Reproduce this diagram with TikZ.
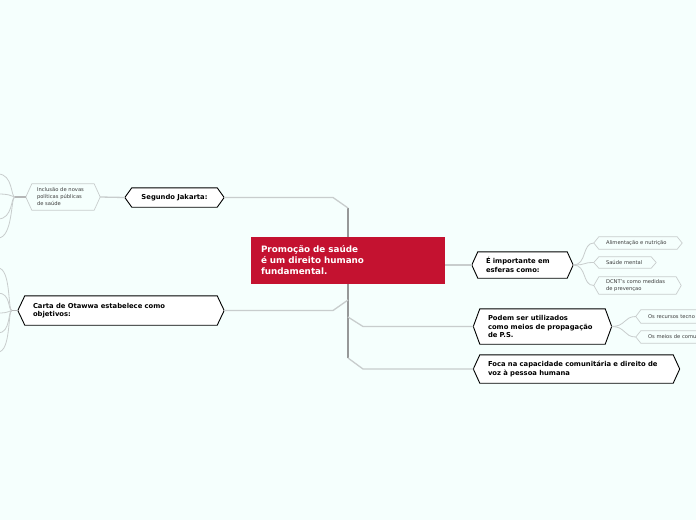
\documentclass[tikz,border=0pt]{standalone}
\usepackage{fontspec}
\setmainfont{DejaVu Sans}
\definecolor{bgc}{RGB}{245,255,253}
\definecolor{redc}{RGB}{196,18,48}
\definecolor{linec}{RGB}{200,205,205}
\definecolor{trunkc}{RGB}{150,152,152}
\definecolor{subtxt}{RGB}{60,60,60}
\pgfdeclarelayer{bgl}
\pgfdeclarelayer{hexl}
\pgfsetlayers{bgl,hexl,main}
\newcommand\hexo[3]{%
  \begin{pgfonlayer}{hexl}
  \draw[#3] ([xshift=-#2pt]#1.west) -- (#1.north west) -- (#1.north east) -- ([xshift=#2pt]#1.east) -- (#1.south east) -- (#1.south west) -- cycle;
  \end{pgfonlayer}
  \coordinate (#1-l) at ([xshift=-#2pt]#1.west);
  \coordinate (#1-r) at ([xshift=#2pt]#1.east);}
\tikzset{
  box/.style={rectangle, inner ysep=0pt, align=left},
  big/.style={box, font=\fontsize{6.8}{8.6}\selectfont\bfseries},
  small/.style={box, font=\fontsize{5.2}{7}\selectfont, text=subtxt},
  blackhex/.style={draw=black, line width=0.9pt, fill=white, line join=miter},
  greyhex/.style={draw=linec, line width=0.7pt, fill=bgc},
  conn/.style={draw=linec, line width=1.3pt},
  thinc/.style={draw=linec, line width=0.8pt},
  trunk/.style={draw=trunkc, line width=1.8pt},
  stub/.style={draw=trunkc!70, line width=1.4pt}
}
\begin{document}
\begin{tikzpicture}[x=1pt,y=-1pt]
\useasboundingbox (0,0) rectangle (696,520);
\begin{pgfonlayer}{bgl}
\fill[bgc] (0,0) rectangle (696,520);
\end{pgfonlayer}
\clip (0,0) rectangle (696,520);

% central node
\node[fill=redc, text=white, font=\fontsize{8.8}{11}\selectfont\bfseries, align=left,
      text width=174pt, inner xsep=10pt, inner ysep=0pt, minimum height=47pt] (main) at (348,260.5)
      {Promoção de saúde\\é um direito humano\\fundamental.};

% main branch nodes
\node[big, align=center, text width=77pt, inner xsep=4pt, minimum height=19pt] (jak) at (174.5,197.5) {Segundo Jakarta:};
\hexo{jak}{7}{blackhex}
\node[big, text width=176pt, inner xsep=8pt, minimum height=29pt] (carta) at (121,310.5) {Carta de Otawwa estabelece como\\objetivos:};
\hexo{carta}{7}{blackhex}
\node[big, text width=73pt, inner xsep=8pt, minimum height=26pt] (imp) at (522.5,265) {É importante em\\esferas como:};
\hexo{imp}{6}{blackhex}
\node[big, text width=109pt, inner xsep=8pt, minimum height=35pt] (pod) at (542.5,326.5) {Podem ser utilizados\\como meios de propagação\\de P.S.};
\hexo{pod}{6.5}{blackhex}
\node[big, text width=177pt, inner xsep=8pt, minimum height=28pt] (foca) at (576.5,369) {Foca na capacidade comunitária e direito de\\voz à pessoa humana};
\hexo{foca}{6.5}{blackhex}

% sub nodes
\node[small, text width=52pt, inner xsep=5pt, minimum height=26pt] (inc) at (63,197) {Inclusão de novas\\políticas públicas\\de saúde};
\hexo{inc}{6}{greyhex}
\node[small, text width=64pt, inner xsep=7pt, minimum height=12pt] (ali) at (638,243) {Alimentação e nutrição};
\hexo{ali}{5}{greyhex}
\node[small, text width=38pt, inner xsep=7pt, minimum height=11pt] (sau) at (625,262.5) {Saúde mental};
\hexo{sau}{5}{greyhex}
\node[small, text width=63pt, inner xsep=7pt, minimum height=17pt] (dcnt) at (637.5,285.5) {DCNT's como medidas\\de prevençao};
\hexo{dcnt}{5}{greyhex}
\node[small, text width=75pt, inner xsep=7pt, minimum height=13pt] (rec) at (685.5,316.5) {Os recursos tecno};
\hexo{rec}{5}{greyhex}
\node[small, text width=75pt, inner xsep=7pt, minimum height=12pt] (mei) at (685.5,337) {Os meios de comu};
\hexo{mei}{5}{greyhex}

% trunk coordinates
\coordinate (tTop) at (348,208);
\coordinate (tBot) at (348,358);
\coordinate (tPod) at (348,317);
\coordinate (tCar) at (348,300);

% trunk
\draw[trunk] (main.north) -- (tTop);
\draw[trunk] (main.south) -- (tBot);
% branches
\draw[conn] (tTop) -- (jak-r -| 333,0) -- (jak-r);
\draw[conn] (tCar) -- (carta-r -| 333,0) -- (carta-r);
\draw[conn] (tPod) -- (pod-l -| 363,0) -- (pod-l);
\draw[conn] (tBot) -- (foca-l -| 363,0) -- (foca-l);
\draw[conn] (main.east |- imp-l) -- (imp-l);
\draw[conn] (inc-r) -- (jak-l);

% sub connectors right
\foreach \c in {ali,sau,dcnt}
  \draw[thinc] (imp-r) .. controls +(14,0) and +(-12,0) .. (\c-l);
\foreach \c in {rec,mei}
  \draw[thinc] (pod-r) .. controls +(14,0) and +(-12,0) .. (\c-l);

% left off-canvas children
\coordinate (incH) at ([xshift=-11pt]inc-l);
\draw[stub] (inc-l) -- (incH);
\foreach \yy in {174,194,219,238}
  \draw[thinc] (incH) .. controls +(-4,0) and +(15,0) .. (-2,\yy);
\coordinate (carH) at ([xshift=-6pt]carta-l);
\draw[stub] (carta-l) -- (carH);
\foreach \yy in {268,293,313,333,352}
  \draw[thinc] (carH) .. controls +(-4,0) and +(13,0) .. (-2,\yy);
\end{tikzpicture}
\end{document}
